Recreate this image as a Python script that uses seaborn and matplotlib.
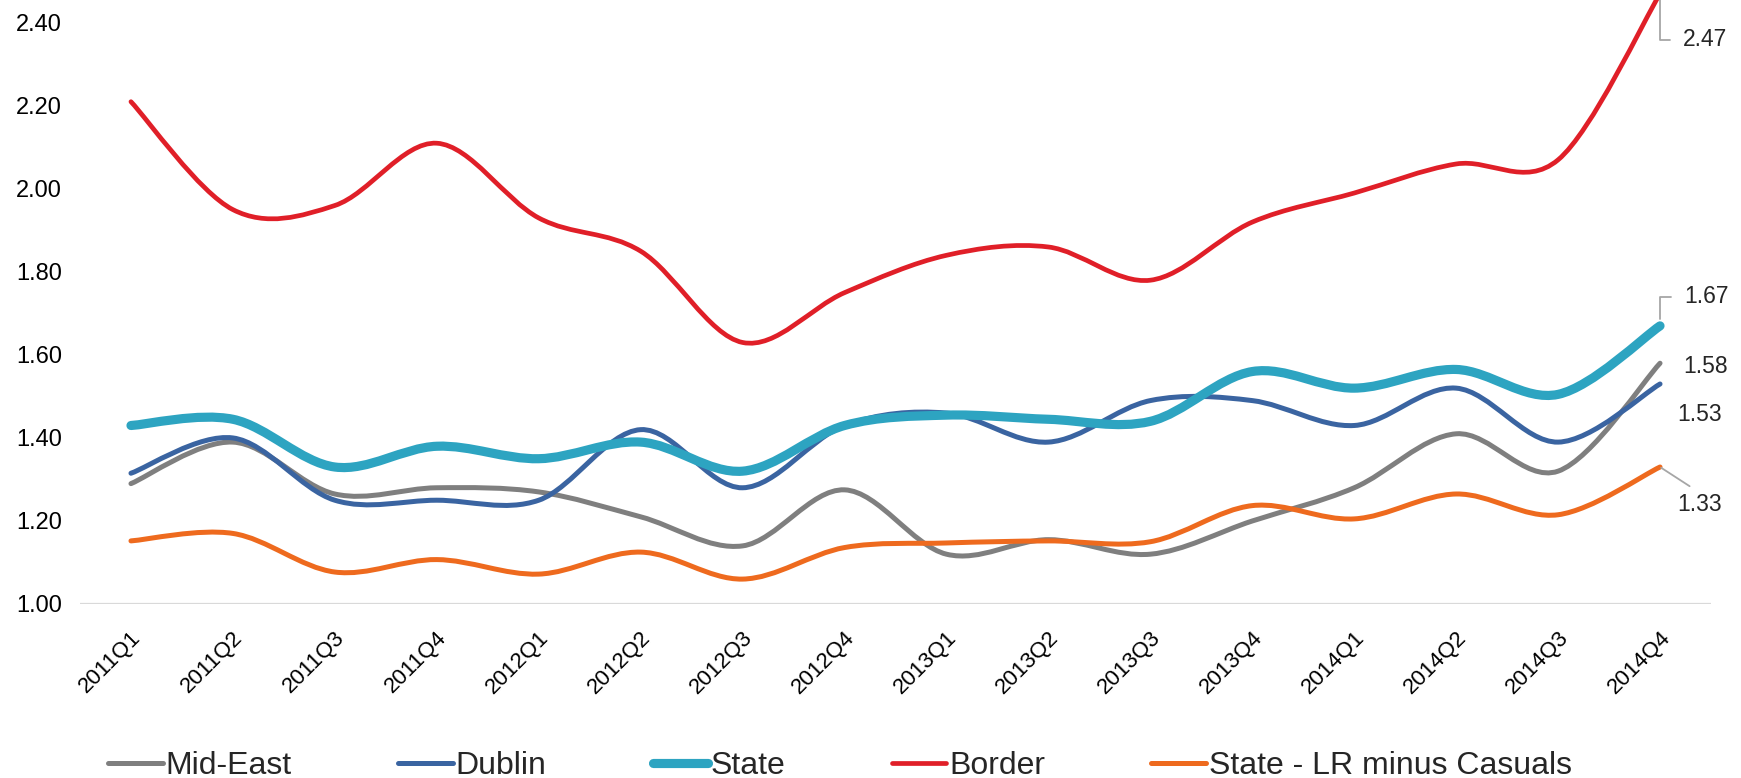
import matplotlib
matplotlib.use("Agg")
import matplotlib.pyplot as plt
import seaborn as sns
import numpy as np
from matplotlib.path import Path
from matplotlib.patches import PathPatch
from matplotlib.lines import Line2D
from matplotlib.transforms import ScaledTranslation

# Quarters on the x axis
quarters = ["2011Q1", "2011Q2", "2011Q3", "2011Q4",
            "2012Q1", "2012Q2", "2012Q3", "2012Q4",
            "2013Q1", "2013Q2", "2013Q3", "2013Q4",
            "2014Q1", "2014Q2", "2014Q3", "2014Q4"]

# Series values
mid_east = [1.29, 1.39, 1.265, 1.28, 1.27, 1.21, 1.14, 1.275,
            1.12, 1.155, 1.12, 1.20, 1.28, 1.41, 1.32, 1.58]
dublin = [1.315, 1.40, 1.25, 1.25, 1.25, 1.42, 1.28, 1.43,
          1.46, 1.39, 1.49, 1.49, 1.43, 1.52, 1.39, 1.53]
state = [1.43, 1.445, 1.33, 1.38, 1.35, 1.39, 1.32, 1.43,
         1.455, 1.445, 1.44, 1.56, 1.52, 1.565, 1.505, 1.67]
border = [2.21, 1.95, 1.96, 2.11, 1.93, 1.85, 1.63, 1.75,
          1.84, 1.86, 1.78, 1.92, 1.99, 2.06, 2.07, 2.47]
state_lr = [1.152, 1.17, 1.077, 1.107, 1.072, 1.125, 1.06, 1.136,
            1.147, 1.152, 1.15, 1.237, 1.205, 1.265, 1.215, 1.33]

series_names = ["Mid-East", "Dublin", "State", "Border", "State - LR minus Casuals"]
series_values = [mid_east, dublin, state, border, state_lr]
colors = ["#7F7F7F", "#3A64A1", "#2DA4C1", "#E01F28", "#EE6A1E"]
widths = [3.6, 3.6, 6.6, 3.4, 3.6]

sns.set_theme(style="white")
plt.rcParams["font.family"] = ["Liberation Sans", "DejaVu Sans"]


def smooth_path(xs, ys):
    """Excel-like smoothed line: cubic bezier through every data point"""
    pts = np.column_stack([xs, ys]).astype(float)
    n = len(pts)
    verts = [pts[0]]
    codes = [Path.MOVETO]
    for i in range(n - 1):
        p0 = pts[max(i - 1, 0)]
        p1 = pts[i]
        p2 = pts[i + 1]
        p3 = pts[min(i + 2, n - 1)]
        c1 = p1 + (p2 - p0) / 6.0
        c2 = p2 - (p3 - p1) / 6.0
        verts += [c1, c2, p2]
        codes += [Path.CURVE4] * 3
    return Path(verts, codes)


fig = plt.figure(figsize=(17.41, 7.78), dpi=100)
ax = fig.add_axes([80 / 1741, 1 - 604 / 778, 1631 / 1741, 604 / 778])

x = np.arange(len(quarters))
for name, vals, col, lw in zip(series_names, series_values, colors, widths):
    patch = PathPatch(smooth_path(x, vals), facecolor="none", edgecolor=col,
                      linewidth=lw, capstyle="round", joinstyle="round",
                      clip_on=False)
    ax.add_patch(patch)

ax.set_xlim(-0.5, len(quarters) - 0.5)
ax.set_ylim(1.0, 2.455)
ax.set_yticks([1.0, 1.2, 1.4, 1.6, 1.8, 2.0, 2.2, 2.4])
ax.set_yticklabels([f"{v:.2f}" for v in ax.get_yticks()], fontsize=17, color="black")
ax.set_xticks(x)
ax.set_xticklabels(quarters, rotation=45, ha="right", va="center",
                   rotation_mode="anchor", fontsize=16, color="black")
ax.tick_params(axis="both", length=0)
ax.tick_params(axis="y", pad=13)
ax.tick_params(axis="x", pad=22)
shift = ScaledTranslation(7 / 100, 0, fig.dpi_scale_trans)
for lab in ax.get_xticklabels():
    lab.set_transform(lab.get_transform() + shift)

for sp in ax.spines.values():
    sp.set_visible(False)
ax.axhline(1.0, color="#D9D9D9", linewidth=1.6, zorder=0)

# data labels at the last quarter
last = len(quarters) - 1
leader = "#A6A6A6"
ax.annotate(f"{border[-1]:.2f}", xy=(last, border[-1]), xytext=(23, -46),
            textcoords="offset pixels", ha="left", va="center", fontsize=16.5,
            annotation_clip=False,
            arrowprops=dict(arrowstyle="-", color=leader, lw=1.3, relpos=(0, 0.5),
                            shrinkA=7, shrinkB=0,
                            connectionstyle="angle,angleA=180,angleB=90,rad=0"))
ax.annotate(f"{state[-1]:.2f}", xy=(last, state[-1]), xytext=(24, 29),
            textcoords="offset pixels", ha="left", va="center", fontsize=16.5,
            arrowprops=dict(arrowstyle="-", color=leader, lw=1.3, relpos=(0, 0.5),
                            shrinkA=7, shrinkB=5,
                            connectionstyle="angle,angleA=180,angleB=90,rad=0"))
ax.annotate(f"{mid_east[-1]:.2f}", xy=(last, mid_east[-1]), xytext=(23, -3),
            textcoords="offset pixels", ha="left", va="center", fontsize=16.5)
ax.annotate(f"{dublin[-1]:.2f}", xy=(last, dublin[-1]), xytext=(17, -31),
            textcoords="offset pixels", ha="left", va="center", fontsize=16.5)
ax.annotate(f"{state_lr[-1]:.2f}", xy=(last, state_lr[-1]), xytext=(17, -37),
            textcoords="offset pixels", ha="left", va="center", fontsize=16.5,
            arrowprops=dict(arrowstyle="-", color=leader, lw=1.3, relpos=(0.5, 1),
                            shrinkA=4, shrinkB=1))

handles = [Line2D([0], [0], color=c, lw=lw, solid_capstyle="round")
           for c, lw in zip(colors, widths)]
fig.legend(handles, series_names, loc="center", ncol=5,
           bbox_to_anchor=(840 / 1741, 12 / 778), frameon=False,
           fontsize=23, handlelength=1.72, handletextpad=0.08,
           columnspacing=3.33, borderpad=0, borderaxespad=0)

fig.savefig("out.png", dpi=100)
